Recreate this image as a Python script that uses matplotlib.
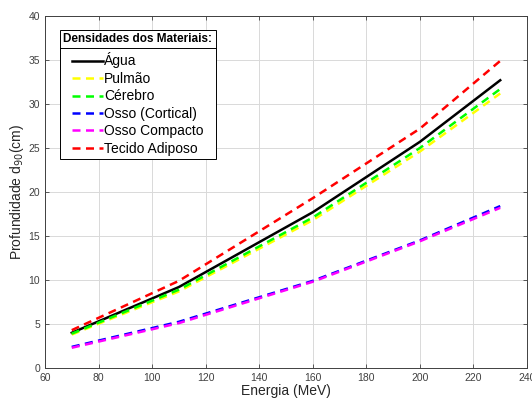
import matplotlib
matplotlib.use("Agg")
import matplotlib.pyplot as plt
from matplotlib.lines import Line2D

energia = [70, 110, 160, 200, 230]
agua = [4.0, 9.2, 17.7, 25.7, 32.7]
pulmao = [3.8, 8.7, 16.8, 24.6, 31.2]
cerebro = [3.9, 8.9, 17.1, 25.0, 31.7]
osso_cortical = [2.4, 5.25, 9.9, 14.5, 18.4]
osso_compacto = [2.3, 5.1, 9.8, 14.4, 18.2]
tecido_adiposo = [4.3, 9.9, 19.3, 27.2, 34.9]

labels = ["Água", "Pulmão", "Cérebro", "Osso (Cortical)", "Osso Compacto", "Tecido Adiposo"]
series = [agua, pulmao, cerebro, osso_cortical, osso_compacto, tecido_adiposo]
colors = ["#000000", "#ffff00", "#00ff00", "#0000ff", "#ff00ff", "#ff0000"]
styles = ["-", "--", "--", "--", "--", "--"]

plt.rcParams['font.family'] = ['Liberation Sans', 'DejaVu Sans']

fig = plt.figure(figsize=(5.32, 4.01), dpi=100)
ax = fig.add_axes([45/532, 33/401, 482/532, 352/401])

for y, lab, c, ls in zip(series, labels, colors, styles):
    ax.plot(energia, y, ls, color=c, lw=1.8, label=lab, dashes=(3.2, 2.2) if ls == "--" else (None, None))

ax.set_xlim(60, 240)
ax.set_ylim(0, 40)
ax.set_xticks(range(60, 241, 20))
ax.set_yticks(range(0, 41, 5))
ax.grid(True, color="#d9d9d9", lw=0.7)
ax.set_axisbelow(True)
ax.tick_params(direction="in", top=True, right=True, labelsize=7.5, colors="#404040", length=3, width=0.6)
for s in ax.spines.values():
    s.set_color("#404040")
    s.set_linewidth(0.7)

ax.set_xlabel("Energia (MeV)", fontsize=10, color="#262626", labelpad=1)
ax.set_ylabel("Profundidade d$_{90}$(cm)", fontsize=10, color="#262626", labelpad=2)

leg = ax.legend(loc="upper left", bbox_to_anchor=(60/532, 1 - 30/401), bbox_transform=fig.transFigure,
                title="Densidades dos Materiais:", title_fontproperties={"weight": "bold", "size": 8.5},
                fontsize=10, frameon=True, fancybox=False, edgecolor="black", framealpha=1,
                handlelength=2.2, handletextpad=0.1, labelspacing=0.25, borderpad=0.25,
                borderaxespad=0)
leg.get_frame().set_linewidth(0.7)
leg._legend_box.sep = 5

fig.canvas.draw()
bb = leg.get_window_extent()
tb = leg.get_title().get_window_extent()
ysep = (tb.y0 - 2.5) / fig.bbox.height
fig.add_artist(Line2D([bb.x0 / fig.bbox.width, bb.x1 / fig.bbox.width], [ysep, ysep],
                      transform=fig.transFigure, color="black", lw=0.7))

fig.savefig("out.png", dpi=100)
